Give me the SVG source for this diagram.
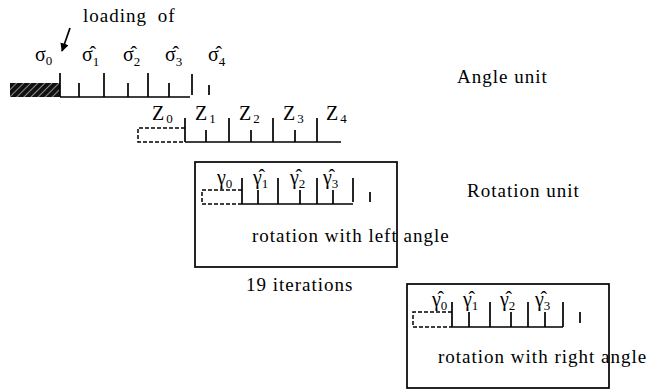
<svg xmlns="http://www.w3.org/2000/svg" width="658" height="392" viewBox="0 0 658 392" font-family="'Liberation Serif', 'Times New Roman', Times, serif">
<style>
text{font-family:'Liberation Serif','Times New Roman',Times,serif;fill:#000}
.lbl{font-size:19px;letter-spacing:1px}
.g{font-size:20px}
.sub{font-size:13px}
.z{font-size:20px}
.ln{stroke:#000;stroke-width:1.7;fill:none}
.dash{stroke:#000;stroke-width:1.5;fill:none;stroke-dasharray:4 2}
.box{stroke:#000;stroke-width:1.7;fill:none}
</style>
<defs>
<pattern id="hatch" width="5" height="5" patternUnits="userSpaceOnUse" patternTransform="rotate(45)">
<rect width="5" height="5" fill="#111"/>
<line x1="0" y1="0" x2="0" y2="5" stroke="#fff" stroke-width="1"/>
</pattern>
<marker id="ah" viewBox="0 0 10 10" refX="9" refY="5" markerWidth="5" markerHeight="5" orient="auto">
<path d="M0,0 L10,5 L0,10 z" fill="#000"/>
</marker>
</defs>

<g id="labels">
<text class="lbl" x="83" y="22" word-spacing="5">loading of</text>
<text class="lbl" x="457" y="83">Angle unit</text>
<text class="lbl" x="467" y="197">Rotation unit</text>
<text class="lbl" x="246" y="291">19 iterations</text>
</g>

<g id="connectors">
<line class="ln" x1="70" y1="28" x2="62" y2="51" stroke-width="2.4" marker-end="url(#ah)"/>
</g>

<g id="angle-unit">
<text x="35" y="61"><tspan class="g">σ</tspan><tspan class="sub" dy="4">0</tspan></text>
<text x="82" y="61"><tspan class="g">σ̂</tspan><tspan class="sub" dy="5">1</tspan></text>
<text x="123" y="61"><tspan class="g">σ̂</tspan><tspan class="sub" dy="5">2</tspan></text>
<text x="165" y="61"><tspan class="g">σ̂</tspan><tspan class="sub" dy="5">3</tspan></text>
<text x="208" y="61"><tspan class="g">σ̂</tspan><tspan class="sub" dy="5">4</tspan></text>
<rect x="10" y="83" width="50" height="14" fill="url(#hatch)"/>
<path class="ln" d="M60,97 H190 M60,73 V97 M79,83 V97 M104,73 V97 M128,83 V97 M148,73 V97 M169,83 V97 M192,74 V95 M209,85 V95"/>
</g>

<g id="z-row">
<text x="152" y="120"><tspan class="z">Z</tspan><tspan class="sub" dx="2" dy="3">0</tspan></text>
<text x="195" y="120"><tspan class="z">Z</tspan><tspan class="sub" dx="2" dy="3">1</tspan></text>
<text x="239" y="120"><tspan class="z">Z</tspan><tspan class="sub" dx="2" dy="3">2</tspan></text>
<text x="283" y="120"><tspan class="z">Z</tspan><tspan class="sub" dx="2" dy="3">3</tspan></text>
<text x="326" y="120"><tspan class="z">Z</tspan><tspan class="sub" dx="2" dy="3">4</tspan></text>
<path class="dash" d="M185,128 H138 V142 H185"/>
<path class="ln" d="M185,142 H341 M185,118 V142 M206,130 V142 M229,118 V142 M251,130 V142 M273,118 V142 M295,130 V142 M317,118 V142"/>
</g>

<g id="rotation-left">
<rect class="box" x="195" y="162" width="202" height="105"/>
<text x="217" y="184"><tspan class="g">γ</tspan><tspan class="sub" dy="4">0</tspan></text>
<text x="253" y="184"><tspan class="g">γ̂</tspan><tspan class="sub" dy="4">1</tspan></text>
<text x="290" y="184"><tspan class="g">γ̂</tspan><tspan class="sub" dy="4">2</tspan></text>
<text x="323" y="184"><tspan class="g">γ̂</tspan><tspan class="sub" dy="4">3</tspan></text>
<path class="dash" d="M242,190 H202 V204 H242"/>
<path class="ln" d="M242,204 H353 M242,178 V204 M258,190 V204 M278,178 V204 M300,190 V204 M317,178 V204 M333,190 V204 M353,178 V202 M370,192 V202"/>
<text class="lbl" x="252" y="242">rotation with left angle</text>
</g>

<g id="rotation-right">
<rect class="box" x="407" y="284" width="202" height="104"/>
<text x="432" y="306"><tspan class="g">γ̂</tspan><tspan class="sub" dy="4">0</tspan></text>
<text x="463" y="306"><tspan class="g">γ̂</tspan><tspan class="sub" dy="4">1</tspan></text>
<text x="500" y="306"><tspan class="g">γ̂</tspan><tspan class="sub" dy="4">2</tspan></text>
<text x="535" y="306"><tspan class="g">γ̂</tspan><tspan class="sub" dy="4">3</tspan></text>
<path class="dash" d="M452,312 H413 V327 H452"/>
<path class="ln" d="M452,327 H563 M452,302 V327 M469,312 V327 M490,302 V327 M511,312 V327 M528,302 V327 M545,312 V327 M563,302 V327 M580,312 V323"/>
<text class="lbl" x="438" y="363" letter-spacing="1.75">rotation with right angle</text>
</g>
</svg>
